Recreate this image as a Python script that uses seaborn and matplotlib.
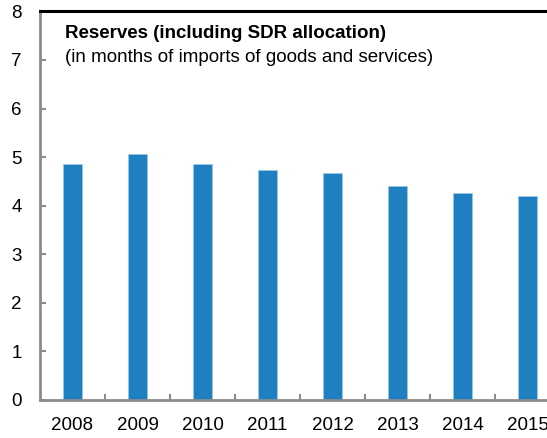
import matplotlib
matplotlib.use("Agg")
import matplotlib.pyplot as plt
from matplotlib.ticker import FixedLocator
import seaborn as sns
import pandas as pd

years = ["2008", "2009", "2010", "2011", "2012", "2013", "2014", "2015"]
reserves = [4.86, 5.07, 4.86, 4.74, 4.67, 4.41, 4.26, 4.19]
y_ticks = [0, 1, 2, 3, 4, 5, 6, 7, 8]
title = "Reserves (including SDR allocation)"
subtitle = "(in months of imports of goods and services)"

sns.set_theme(style="white")
plt.rcParams["font.family"] = ["Liberation Sans", "DejaVu Sans"]

df = pd.DataFrame({"year": years, "reserves": reserves})

fig = plt.figure(figsize=(5.47, 4.38), dpi=100)
ax = fig.add_axes([0.073, 0.087, 0.951, 0.887])

sns.barplot(data=df, x="year", y="reserves", color="#1F80C1",
            width=0.3, saturation=1, ax=ax, edgecolor="#9CC7E6", linewidth=0.6)

ax.set_xlim(-0.5, len(years) - 0.5)
ax.set_ylim(0, 8)
ax.set_yticks(y_ticks)
ax.set_xlabel("")
ax.set_ylabel("")

grey = "#8C8C8C"
for side in ["left", "bottom"]:
    ax.spines[side].set_color(grey)
    ax.spines[side].set_linewidth(2)
ax.spines["right"].set_visible(False)
ax.spines["top"].set_color("black")
ax.spines["top"].set_linewidth(2.2)

ax.tick_params(axis="y", direction="in", length=4, width=1.5, color=grey,
               labelsize=13.5, pad=13, left=True)
ax.tick_params(axis="x", which="major", length=0, labelsize=13.5, pad=12)
ax.xaxis.set_minor_locator(FixedLocator([i + 0.5 for i in range(len(years) - 1)]))
ax.tick_params(axis="x", which="minor", direction="in", length=4, width=1.5,
               color=grey, bottom=True)
for lbl in ax.get_xticklabels() + ax.get_yticklabels():
    lbl.set_color("black")

ax.text(0.048, 0.943, title, transform=ax.transAxes, fontsize=13.5,
        fontweight="bold", va="center", ha="left", color="black")
ax.text(0.048, 0.882, subtitle, transform=ax.transAxes, fontsize=13.5,
        va="center", ha="left", color="black")

fig.savefig("out.png", dpi=100)
